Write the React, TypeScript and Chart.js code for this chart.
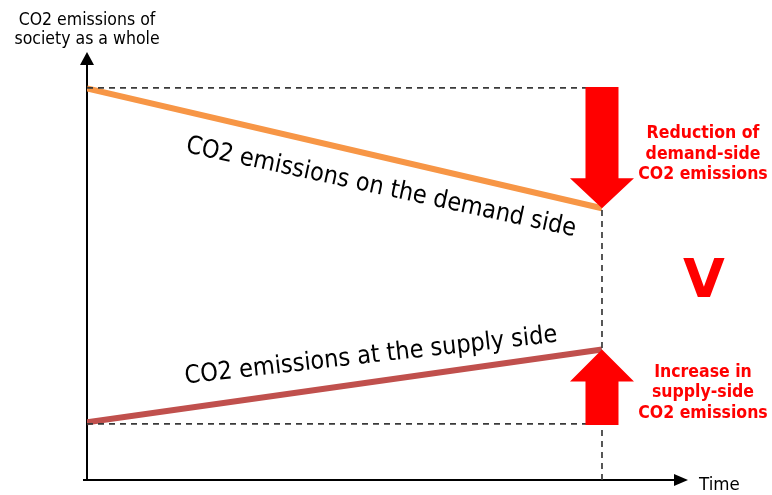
import React, { useEffect, useRef } from "react";
import { Chart, registerables } from "chart.js";

Chart.register(...registerables);

// ---- data ----
const timePoints = [0, 10];
const demandEmissions = [91.5, 63.5];
const supplyEmissions = [13.5, 30.5];
const demandStartLevel = [91.6, 91.6];
const supplyStartLevel = [13.1, 13.1];
const xAxisMax = 11.67;
const yAxisMax = 100;

// ---- texts ----
const yAxisTitle = ["CO2 emissions of", "society as a whole"];
const xAxisTitle = "Time";
const demandLabel = "CO2 emissions on the demand side";
const supplyLabel = "CO2 emissions at the supply side";
const reductionLabel = ["Reduction of", "demand-side", "CO2 emissions"];
const increaseLabel = ["Increase in", "supply-side", "CO2 emissions"];
const comparisonSymbol = "V";

const FONT = "'DejaVu Sans', Verdana, sans-serif";
const RED = "#FF0000";
const SX = 0.9;

function drawArrow(ctx: CanvasRenderingContext2D, x: number, base: number, tip: number, shaftHalf: number, headHalf: number, headLen: number) {
  const dir = tip > base ? 1 : -1;
  const headBase = tip - dir * headLen;
  ctx.beginPath();
  ctx.moveTo(x - shaftHalf, base);
  ctx.lineTo(x + shaftHalf, base);
  ctx.lineTo(x + shaftHalf, headBase);
  ctx.lineTo(x + headHalf, headBase);
  ctx.lineTo(x, tip);
  ctx.lineTo(x - headHalf, headBase);
  ctx.lineTo(x - shaftHalf, headBase);
  ctx.closePath();
  ctx.fill();
}

function text(ctx: CanvasRenderingContext2D, s: string, x: number, y: number, angle = 0, sx = SX) {
  ctx.save();
  ctx.translate(x, y);
  if (angle) ctx.rotate(angle);
  ctx.scale(sx, 1);
  ctx.fillText(s, 0, 0);
  ctx.restore();
}

const diagramPlugin = {
  id: "diagram",
  beforeDatasetsDraw(chart: any) {
    const ctx: CanvasRenderingContext2D = chart.ctx;
    const xs = chart.scales.x;
    const ys = chart.scales.y;
    const x0 = xs.getPixelForValue(0);
    const y0 = ys.getPixelForValue(0);
    ctx.save();
    ctx.strokeStyle = "#000";
    ctx.fillStyle = "#000";
    ctx.lineWidth = 2;
    // y axis
    ctx.beginPath();
    ctx.moveTo(x0, y0 + 1);
    ctx.lineTo(x0, ys.top + 10);
    ctx.stroke();
    ctx.beginPath();
    ctx.moveTo(x0, ys.top);
    ctx.lineTo(x0 + 7, ys.top + 13);
    ctx.lineTo(x0 - 7, ys.top + 13);
    ctx.closePath();
    ctx.fill();
    // x axis
    ctx.beginPath();
    ctx.moveTo(x0 - 4, y0);
    ctx.lineTo(xs.right - 10, y0);
    ctx.stroke();
    ctx.beginPath();
    ctx.moveTo(xs.right, y0);
    ctx.lineTo(xs.right - 14, y0 - 6);
    ctx.lineTo(xs.right - 14, y0 + 6);
    ctx.closePath();
    ctx.fill();
    ctx.restore();
  },
  afterDatasetsDraw(chart: any) {
    const ctx: CanvasRenderingContext2D = chart.ctx;
    const xs = chart.scales.x;
    const ys = chart.scales.y;
    const x0 = xs.getPixelForValue(timePoints[0]);
    const xEnd = xs.getPixelForValue(timePoints[1]);
    const dS = ys.getPixelForValue(demandEmissions[0]);
    const dE = ys.getPixelForValue(demandEmissions[1]);
    const sS = ys.getPixelForValue(supplyEmissions[0]);
    const sE = ys.getPixelForValue(supplyEmissions[1]);
    const topRef = ys.getPixelForValue(demandStartLevel[1]);
    const botRef = ys.getPixelForValue(supplyStartLevel[1]);

    ctx.save();
    // arrows
    ctx.fillStyle = RED;
    drawArrow(ctx, xEnd, topRef - 1, dE, 16.5, 32, 30);
    drawArrow(ctx, xEnd, botRef + 1, sE, 16.5, 32, 32);

    // red labels
    ctx.textAlign = "center";
    ctx.textBaseline = "middle";
    ctx.font = `bold 17.5px ${FONT}`;
    const cx = xEnd + 101;
    const downMid = (topRef + dE) / 2 + 6;
    reductionLabel.forEach((t, i) => text(ctx, t, cx, downMid + (i - 1) * 20.5));
    const upMid = (botRef + sE) / 2 + 6;
    increaseLabel.forEach((t, i) => text(ctx, t, cx, upMid + (i - 1) * 20.5));
    ctx.font = `bold 54px ${FONT}`;
    text(ctx, comparisonSymbol, cx + 1, (dE + sE) / 2 + 4, 0, 1);

    // axis titles
    ctx.fillStyle = "#000";
    ctx.font = `17.5px ${FONT}`;
    yAxisTitle.forEach((t, i) => text(ctx, t, x0, 20 + i * 19.5));
    ctx.textAlign = "left";
    ctx.font = `18.5px ${FONT}`;
    text(ctx, xAxisTitle, xs.right + 11, ys.bottom + 5);

    // rotated line labels
    ctx.textAlign = "center";
    ctx.font = `25px ${FONT}`;
    const dAng = Math.atan2(dE - dS, xEnd - x0);
    const dx = 381;
    const dy = dS + (dx - x0) * Math.tan(dAng) + 31;
    text(ctx, demandLabel, dx, dy, dAng * 0.93);

    const sAng = Math.atan2(sE - sS, xEnd - x0);
    const sx = 371;
    const sy = sS + (sx - x0) * Math.tan(sAng) - 26;
    text(ctx, supplyLabel, sx, sy, sAng * 0.8);

    ctx.restore();
  },
};

export default function App() {
  const canvasRef = useRef<HTMLCanvasElement | null>(null);

  useEffect(() => {
    const canvas = canvasRef.current;
    if (!canvas) return;
    const pts = (ys: number[]) => timePoints.map((x, i) => ({ x, y: ys[i] }));
    const dash = { borderColor: "#3a3a3a", borderWidth: 1.7, borderDash: [6, 5], pointRadius: 0, fill: false };
    const chart = new Chart(canvas, {
      type: "line",
      data: {
        datasets: [
          { label: "demand level", data: pts(demandStartLevel), ...dash },
          { label: "supply level", data: pts(supplyStartLevel), ...dash },
          {
            label: "time end",
            data: [
              { x: timePoints[1], y: 0 },
              { x: timePoints[1], y: demandStartLevel[1] },
            ],
            ...dash,
          },
          {
            label: demandLabel,
            data: pts(demandEmissions),
            borderColor: "#F79646",
            borderWidth: 6,
            pointRadius: 0,
            fill: false,
          },
          {
            label: supplyLabel,
            data: pts(supplyEmissions),
            borderColor: "#C0504D",
            borderWidth: 6,
            pointRadius: 0,
            fill: false,
          },
        ],
      },
      options: {
        animation: false,
        responsive: false,
        devicePixelRatio: 1,
        layout: { padding: { left: 87, right: 84, top: 52, bottom: 15 } },
        plugins: { legend: { display: false }, tooltip: { enabled: false }, title: { display: false } },
        scales: {
          x: { type: "linear", min: 0, max: xAxisMax, display: false },
          y: { type: "linear", min: 0, max: yAxisMax, display: false },
        },
        elements: { line: { tension: 0, borderCapStyle: "butt" } },
      },
      plugins: [diagramPlugin],
    } as any);
    return () => chart.destroy();
  }, []);

  return (
    <div style={{ position: "absolute", left: 0, top: 0, width: 772, height: 495, background: "#fff" }}>
      <canvas ref={canvasRef} width={772} height={495} style={{ display: "block" }} />
    </div>
  );
}
